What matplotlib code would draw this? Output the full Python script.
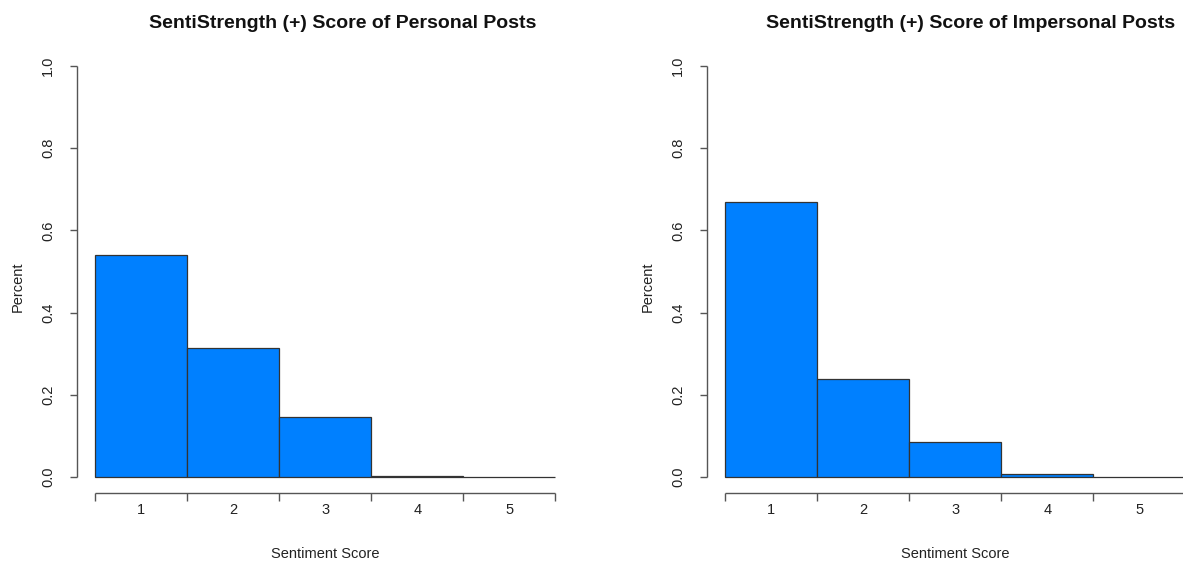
import matplotlib
matplotlib.use("Agg")
import matplotlib.pyplot as plt

plt.rcParams['font.family'] = ['Liberation Sans', 'DejaVu Sans']

scores = [1, 2, 3, 4, 5]
personal = [0.540, 0.314, 0.146, 0.002, 0.0]
impersonal = [0.669, 0.238, 0.085, 0.007, 0.001]
yticks = [0.0, 0.2, 0.4, 0.6, 0.8, 1.0]

titles = ["SentiStrength (+) Score of Personal Posts",
          "SentiStrength (+) Score of Impersonal Posts"]

W, H = 1183, 562
fig = plt.figure(figsize=(W / 100, H / 100), dpi=100)

BAR_COLOR = "#0080FF"
AX_COLOR = "#555555"


def panel(left_px, values, title, title_x):
    width_px = 496.8
    top_px, bottom_px = 49.6, 493.4
    ax = fig.add_axes([left_px / W, (H - bottom_px) / H,
                       width_px / W, (bottom_px - top_px) / H])
    n = len(values)
    ax.set_xlim(-0.04 * n, n * 1.04)
    ax.set_ylim(-0.04, 1.04)
    ax.bar(range(n), values, width=1.0, align='edge', color=BAR_COLOR,
           edgecolor="#333333", linewidth=0.9)
    for s in ax.spines.values():
        s.set_visible(False)
    ax.set_xticks([])
    ax.set_yticks([])

    x0 = ax.get_xlim()[0]
    y0 = ax.get_ylim()[0]
    # y axis line and ticks
    ax.plot([x0, x0], [yticks[0], yticks[-1]], color=AX_COLOR, lw=1.0,
            clip_on=False, solid_capstyle='butt')
    tick_dx = 7 * (ax.get_xlim()[1] - x0) / width_px
    for t in yticks:
        ax.plot([x0 - tick_dx, x0], [t, t], color=AX_COLOR, lw=1.0,
                clip_on=False, solid_capstyle='butt')
        ax.text(x0 - 29 * (ax.get_xlim()[1] - x0) / width_px, t, f"{t:.1f}",
                rotation=90, ha='center', va='center', fontsize=10.5,
                color="#222222", clip_on=False)
    # x axis line with ticks at bar edges
    per_px_y = (ax.get_ylim()[1] - y0) / (bottom_px - top_px)
    ax.plot([0, n], [y0, y0], color=AX_COLOR, lw=1.0, clip_on=False,
            solid_capstyle='butt')
    for e in range(n + 1):
        ax.plot([e, e], [y0, y0 - 8 * per_px_y], color=AX_COLOR, lw=1.0,
                clip_on=False, solid_capstyle='butt')
    for i, s in enumerate(scores):
        ax.text(i + 0.5, y0 - 17 * per_px_y, str(s), ha='center', va='center',
                fontsize=10.5, color="#222222", clip_on=False)

    ax.text(left_px / W + width_px / W / 2, (H - 554) / H, "Sentiment Score",
            transform=fig.transFigure, ha='center', va='center',
            fontsize=10.5, color="#222222")
    ax.text((left_px - 59) / W, (H - 287) / H, "Percent",
            transform=fig.transFigure, rotation=90, ha='center',
            va='center', fontsize=10.5, color="#222222")
    fig.text(title_x / W, (H - 24) / H, title, ha='center', va='center',
             fontsize=14, fontweight='bold', color="#111111")
    return ax


panel(77, personal, titles[0], 343)
panel(707, impersonal, titles[1], 971)

fig.savefig("out.png", dpi=100, facecolor="white")
